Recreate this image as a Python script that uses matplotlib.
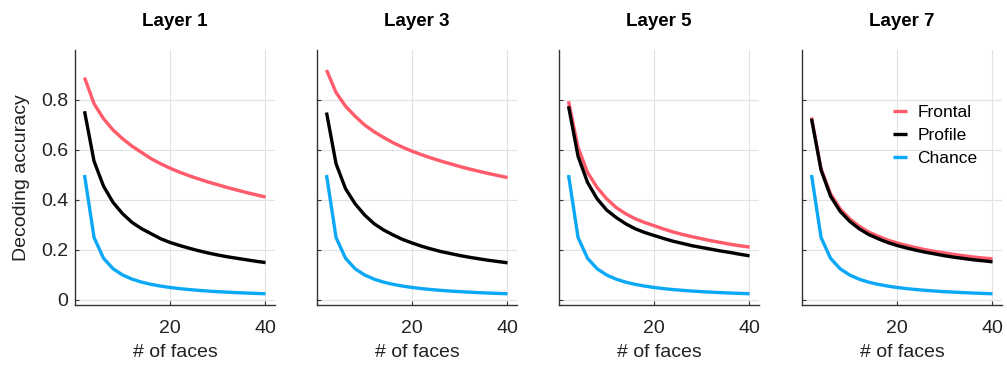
import numpy as np
import matplotlib
matplotlib.use("Agg")
import matplotlib.pyplot as plt

plt.rcParams['font.family'] = ['Liberation Sans', 'DejaVu Sans']

# number of faces in the decoding set
n_faces = [2, 4, 6, 8, 10, 12, 14, 16, 18, 20, 22, 24, 26, 28, 30, 32, 34, 36, 38, 40]

# chance level accuracy
chance = [0.5, 0.25, 0.1667, 0.125, 0.1, 0.0833, 0.0714, 0.0625, 0.0556, 0.05,
          0.0455, 0.0417, 0.0385, 0.0357, 0.0333, 0.0313, 0.0294, 0.0278, 0.0263, 0.025]

layers = ["Layer 1", "Layer 3", "Layer 5", "Layer 7"]

frontal = [
    [0.89, 0.785, 0.725, 0.68, 0.645, 0.615, 0.59, 0.565, 0.545, 0.527,
     0.511, 0.497, 0.484, 0.472, 0.461, 0.45, 0.44, 0.43, 0.421, 0.412],
    [0.92, 0.83, 0.775, 0.735, 0.70, 0.673, 0.65, 0.629, 0.611, 0.595,
     0.581, 0.568, 0.556, 0.545, 0.534, 0.524, 0.515, 0.506, 0.498, 0.49],
    [0.795, 0.61, 0.51, 0.45, 0.405, 0.37, 0.345, 0.325, 0.31, 0.297,
     0.284, 0.272, 0.262, 0.253, 0.245, 0.237, 0.23, 0.223, 0.217, 0.212],
    [0.73, 0.525, 0.425, 0.365, 0.325, 0.295, 0.272, 0.255, 0.24, 0.228,
     0.218, 0.209, 0.201, 0.194, 0.188, 0.182, 0.177, 0.172, 0.168, 0.165],
]

profile = [
    [0.755, 0.555, 0.455, 0.39, 0.345, 0.31, 0.285, 0.265, 0.245, 0.23,
     0.218, 0.207, 0.197, 0.188, 0.18, 0.173, 0.167, 0.161, 0.155, 0.15],
    [0.75, 0.545, 0.445, 0.385, 0.34, 0.305, 0.28, 0.26, 0.242, 0.228,
     0.215, 0.204, 0.194, 0.186, 0.178, 0.171, 0.165, 0.159, 0.154, 0.149],
    [0.775, 0.575, 0.47, 0.405, 0.36, 0.33, 0.305, 0.285, 0.27, 0.258,
     0.246, 0.235, 0.226, 0.217, 0.21, 0.203, 0.196, 0.19, 0.183, 0.177],
    [0.725, 0.52, 0.415, 0.355, 0.315, 0.285, 0.262, 0.245, 0.23, 0.218,
     0.208, 0.199, 0.191, 0.184, 0.177, 0.171, 0.166, 0.161, 0.157, 0.153],
]

# standard error of the mean across repetitions
sem = 0.006

c_front = '#ff5b6b'
c_prof = '#000000'
c_chance = '#0aa8f7'

fig = plt.figure(figsize=(10.07, 3.67), dpi=100)

lefts = [75, 317, 559, 802]
for i, name in enumerate(layers):
    ax = fig.add_axes([lefts[i] / 1007, 1 - 305 / 367, 200 / 1007, 255 / 367])
    x = np.array(n_faces)
    f = np.array(frontal[i])
    p = np.array(profile[i])
    ax.fill_between(x, f - sem, f + sem, color=c_front, alpha=0.25, lw=0)
    ax.fill_between(x, p - sem, p + sem, color='gray', alpha=0.35, lw=0)
    ax.plot(x, f, color=c_front, lw=2.4, label='Frontal', solid_capstyle='butt')
    ax.plot(x, p, color=c_prof, lw=2.4, label='Profile', solid_capstyle='butt')
    ax.plot(x, chance, color=c_chance, lw=2.4, label='Chance', solid_capstyle='butt')

    ax.set_xlim(0, 42)
    ax.set_ylim(-0.02, 1.0)
    ax.set_xticks([20, 40])
    ax.set_yticks([0, 0.2, 0.4, 0.6, 0.8])
    ax.set_yticklabels(['0', '0.2', '0.4', '0.6', '0.8'])
    ax.grid(True, color='#e2e2e2', lw=0.8)
    ax.set_axisbelow(True)
    for s in ['top', 'right']:
        ax.spines[s].set_visible(False)
    for s in ['left', 'bottom']:
        ax.spines[s].set_color('#333333')
        ax.spines[s].set_linewidth(1.0)
    ax.tick_params(direction='in', length=3, width=0.8, colors='#333333',
                   labelsize=14, labelcolor='#222222')
    ax.tick_params(axis='x', pad=11)
    ax.tick_params(axis='y', pad=5)
    if i > 0:
        ax.set_yticklabels([])
    else:
        ax.set_ylabel('Decoding accuracy', fontsize=14, color='#222222', labelpad=8)
    ax.set_xlabel('# of faces', fontsize=14, color='#222222', labelpad=5)
    ax.set_title(name, fontsize=13.5, fontweight='bold', pad=17)

    if i == 3:
        ax.legend(loc='upper left', bbox_to_anchor=(0.455, 0.785), frameon=False,
                  fontsize=12.5, handlelength=0.8, handletextpad=0.6,
                  labelspacing=0.45, borderpad=0, borderaxespad=0)

fig.savefig('out.png', dpi=100)
